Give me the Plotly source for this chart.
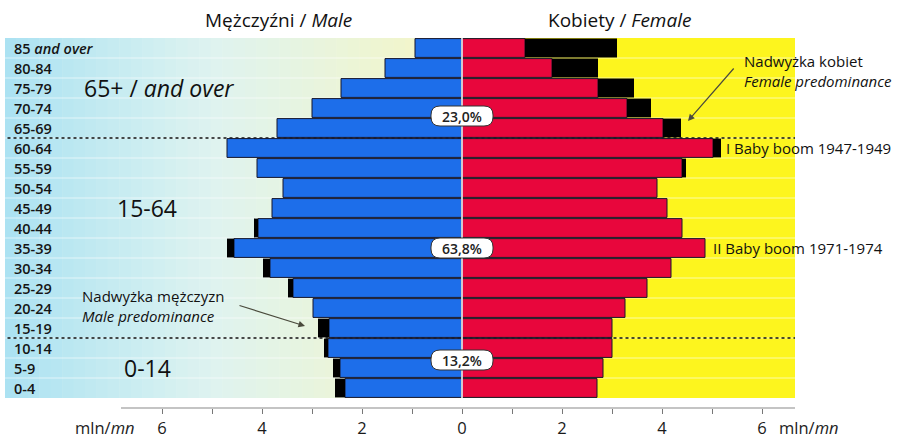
import plotly.graph_objects as go

# ── Dane ────────────────────────────────────────────────
grupy = ["0-4", "5-9", "10-14", "15-19", "20-24", "25-29", "30-34", "35-39",
         "40-44", "45-49", "50-54", "55-59", "60-64", "65-69", "70-74",
         "75-79", "80-84", "85 <i>and over</i>"]

mezczyzni = [2.34, 2.44, 2.68, 2.66, 2.98, 3.38, 3.84, 4.56, 4.08,
             3.80, 3.58, 4.10, 4.70, 3.70, 3.00, 2.42, 1.54, 0.94]
nadwyzka_m = [0.20, 0.14, 0.08, 0.22, 0.00, 0.10, 0.14, 0.14, 0.08,
              0, 0, 0, 0, 0, 0, 0, 0, 0]

kobiety = [2.70, 2.82, 3.00, 3.00, 3.26, 3.70, 4.18, 4.86, 4.40,
           4.10, 3.90, 4.40, 5.02, 4.02, 3.30, 2.72, 1.80, 1.26]
nadwyzka_k = [0, 0, 0, 0, 0, 0, 0, 0, 0,
              0, 0, 0.08, 0.16, 0.36, 0.48, 0.72, 0.92, 1.84]

udzialy = ["13,2%", "63,8%", "23,0%"]
udzialy_y = [1.4, 7.0, 13.6]

ticki = [-6, -5, -4, -3, -2, -1, 0, 1, 2, 3, 4, 5, 6]
ticki_txt = ["6", "", "4", "", "2", "", "0", "", "2", "", "4", "", "6"]

FONT = "Open Sans"
X_MIN, X_MAX = -9.14, 6.66
idx = list(range(len(grupy)))

fig = go.Figure()

linia = dict(color="#16162a", width=1)
fig.add_trace(go.Bar(y=idx, x=[-v for v in mezczyzni], orientation="h",
                     marker=dict(color="#1d6eea", line=linia)))
fig.add_trace(go.Bar(y=idx, x=[-v for v in nadwyzka_m], orientation="h",
                     marker=dict(color="#000000", line=dict(width=0))))
fig.add_trace(go.Bar(y=idx, x=kobiety, orientation="h",
                     marker=dict(color="#e8063c", line=linia)))
fig.add_trace(go.Bar(y=idx, x=nadwyzka_k, orientation="h",
                     marker=dict(color="#000000", line=dict(width=0))))

# ── Tło ─────────────────────────────────────────────────
ksztalty = []
n = 40
stops = [(0.0, (172, 226, 242)), (0.45, (222, 243, 240)), (1.0, (246, 246, 196))]


def kolor(t):
    for (t0, c0), (t1, c1) in zip(stops, stops[1:]):
        if t <= t1:
            f = (t - t0) / (t1 - t0)
            return "rgb(%d,%d,%d)" % tuple(round(a + (b - a) * f) for a, b in zip(c0, c1))
    return "rgb(%d,%d,%d)" % stops[-1][1]


for i in range(n):
    x0 = X_MIN + (0 - X_MIN) * i / n
    x1 = X_MIN + (0 - X_MIN) * (i + 1) / n
    ksztalty.append(dict(type="rect", xref="x", yref="y", x0=x0, x1=x1 + 0.01,
                         y0=-0.5, y1=17.5, fillcolor=kolor(i / (n - 1)),
                         line=dict(width=0), layer="below"))
ksztalty.append(dict(type="rect", xref="x", yref="y", x0=0, x1=X_MAX,
                     y0=-0.5, y1=17.5, fillcolor="#fdf51e",
                     line=dict(width=0), layer="below"))
for k in range(17):
    ksztalty.append(dict(type="line", xref="x", yref="y", x0=X_MIN, x1=X_MAX,
                         y0=k + 0.5, y1=k + 0.5,
                         line=dict(color="rgba(255,255,255,0.4)", width=1.5),
                         layer="below"))
for yy in [2.5, 12.5]:
    ksztalty.append(dict(type="line", xref="x", yref="y", x0=X_MIN + 0.05, x1=X_MAX,
                         y0=yy, y1=yy, line=dict(color="#111", width=1.3, dash="dot"),
                         layer="below"))
# oś pozioma
ksztalty.append(dict(type="line", xref="x", yref="paper", x0=-6.82, x1=X_MAX,
                     y0=0, y1=0, line=dict(color="#8a8a8a", width=1.2)))
# linia środkowa
ksztalty.append(dict(type="line", xref="x", yref="y", x0=0, x1=0,
                     y0=-0.5, y1=17.5, line=dict(color="white", width=1.5)))

# zaokrąglone ramki z udziałami
w, h, r = 31, 10, 9
sciezka = (f"M {-w + r},{-h} L {w - r},{-h} Q {w},{-h} {w},{-h + r} "
           f"L {w},{h - r} Q {w},{h} {w - r},{h} L {-w + r},{h} "
           f"Q {-w},{h} {-w},{h - r} L {-w},{-h + r} Q {-w},{-h} {-w + r},{-h} Z")
for yy in udzialy_y:
    ksztalty.append(dict(type="path", xref="x", yref="y", xsizemode="pixel",
                         ysizemode="pixel", xanchor=0, yanchor=yy, path=sciezka,
                         fillcolor="white", line=dict(color="#333", width=1)))

fig.update_layout(shapes=ksztalty)

# ── Teksty ──────────────────────────────────────────────
adn = []
for i, g in enumerate(grupy):
    adn.append(dict(x=X_MIN + 0.14, y=i, xref="x", yref="y", text=g, showarrow=False,
                    xanchor="left", font=dict(size=14.5, color="#151515", weight=600)))
for t, yy in zip(udzialy, udzialy_y):
    adn.append(dict(x=0, y=yy, xref="x", yref="y", text=t, showarrow=False,
                    font=dict(size=14, color="#222", weight=600)))

duze = dict(size=23, color="#111")
opisy = [
    dict(x=-7.6, y=15, text="65+ / <i>and over</i>", xanchor="left", font=duze),
    dict(x=-6.94, y=9, text="15-64", xanchor="left", font=duze),
    dict(x=-6.8, y=1, text="0-14", xanchor="left", font=duze),
    dict(x=5.6, y=15.85, text="Nadwyżka kobiet<br><i>Female predominance</i>",
         xanchor="left", align="left", font=dict(size=15, color="#111")),
    dict(x=-7.64, y=4.1, text="Nadwyżka mężczyzn<br><i>Male predominance</i>",
         xanchor="left", align="left", font=dict(size=15, color="#111")),
    dict(x=5.24, y=12, text="I Baby boom 1947-1949", xanchor="left",
         font=dict(size=15, color="#111")),
    dict(x=4.98, y=7, text="II Baby boom 1971-1974", xanchor="left",
         font=dict(size=15, color="#111")),
]
for a in opisy:
    a.update(xref="x", yref="y", showarrow=False)
adn += opisy

# tytuły kolumn
for tx, t in [(-3.68, "Mężczyźni / <i>Male</i>"), (3.14, "Kobiety / <i>Female</i>")]:
    adn.append(dict(x=tx, y=1.0486, xref="x", yref="paper", text=t, showarrow=False,
                    yanchor="middle", font=dict(size=19, color="#111")))

# strzałki
for (hx, hy, tx, ty) in [(4.52, 13.35, 5.46, 16.05), (-3.14, 3.1, -4.48, 4.15)]:
    adn.append(dict(x=hx, y=hy, ax=tx, ay=ty, xref="x", yref="y", axref="x", ayref="y",
                    text="", showarrow=True, arrowhead=2, arrowsize=1.1,
                    arrowwidth=1.2, arrowcolor="#4a4a3c"))

# jednostki
adn.append(dict(x=-6.5, y=-0.054, xref="x", yref="paper", text="mln/<i>mn</i>",
                showarrow=False, xanchor="right", yanchor="middle",
                font=dict(size=16.5, color="#222")))
adn.append(dict(x=6.3, y=-0.054, xref="x", yref="paper", text="mln/<i>mn</i>",
                showarrow=False, xanchor="left", yanchor="middle",
                font=dict(size=16.5, color="#222")))

fig.update_layout(
    annotations=adn,
    width=906, height=438,
    margin=dict(l=5, r=111, t=38, b=30),
    barmode="relative", bargap=0.06,
    showlegend=False,
    paper_bgcolor="white", plot_bgcolor="white",
    font=dict(family=FONT),
    xaxis=dict(range=[X_MIN, X_MAX], tickvals=ticki, ticktext=ticki_txt,
               showgrid=False, zeroline=False, showline=False, automargin=False,
               ticks="outside", ticklen=5, tickcolor="#777", tickwidth=1,
               anchor="free", position=0,
               tickfont=dict(size=16.5, color="#1a1a1a", weight=500)),
    yaxis=dict(range=[-0.5, 17.5], domain=[0.027, 1], showticklabels=False,
               showgrid=False, zeroline=False, ticks="", automargin=False),
)

fig.write_html("out.html", config={"displayModeBar": False},
               post_script="document.body.style.margin='0px';")
